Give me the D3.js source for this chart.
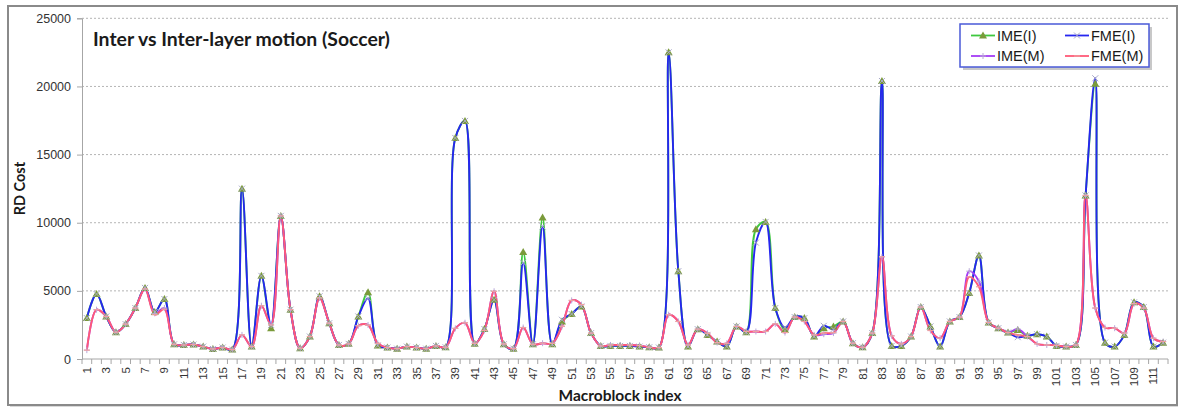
<!DOCTYPE html>
<html>
<head>
<meta charset="utf-8">
<script src="https://cdn.jsdelivr.net/npm/d3@7"></script>
<style>
  html, body { margin: 0; padding: 0; background: #ffffff; }
  svg { display: block; }
</style>
</head>
<body>
<svg id="chart" width="1182" height="408"></svg>
<script>
// Macroblock indices 1..112
const categories = d3.range(1, 113);

// RD cost per macroblock, one array per motion-estimation mode
const imeI = [3000,4770,3120,1970,2560,3740,5215,3440,4400,1080,
  1030,1060,910,740,840,690,12500,910,6100,2260,
  10500,3620,790,1650,4600,2630,1030,1110,3120,4900,
  985,840,760,910,840,760,960,860,16220,17470,
  1110,2200,4350,1080,760,7850,1080,10380,1080,2760,
  3300,3860,1900,960,960,960,960,910,860,840,
  22500,6445,910,2190,1770,1280,910,2390,1970,9520,
  10060,3740,2140,3075,3000,1650,2260,2390,2755,1160,
  860,1900,20400,960,960,1650,3810,2390,910,2755,
  3075,4850,7600,2680,2260,1940,2125,1700,1820,1650,
  960,910,1030,12000,20200,1200,910,1770,4160,3810,
  910,1200];

const fmeI = [3000,4770,3120,1970,2560,3740,5215,3440,4400,1080,
  1030,1060,910,740,840,690,12500,910,6100,2500,
  10500,3620,790,1650,4600,2630,1030,1110,3120,4450,
  985,840,760,910,840,760,960,860,16220,17470,
  1110,2200,4350,1080,760,7060,1080,9720,1080,2880,
  3300,3860,1900,960,960,960,960,910,860,840,
  22500,6445,910,2190,1770,1280,910,2390,1970,8540,
  10060,3740,2310,3075,3000,1650,2435,2190,2755,1160,
  860,1900,20400,960,960,1650,3810,2390,910,2755,
  3075,4850,7600,2680,2260,1940,1600,1700,1820,1650,
  960,910,1030,12000,20600,1200,910,1770,4160,3810,
  910,1200];

const imeM = [650,3620,3120,1970,2560,3740,5140,3350,3740,1080,
  1030,1060,910,740,840,690,1770,910,3910,2500,
  10500,3620,790,1650,4480,2630,1030,1110,2440,2500,
  1150,840,760,910,840,760,960,860,2250,2660,
  1150,2100,4970,1100,760,2310,1080,1160,1150,2400,
  4300,3990,1900,960,1030,1030,1030,985,860,840,
  3250,2755,1030,2190,1890,1200,1150,2390,2020,2020,
  2020,2580,1940,3075,2755,1770,1820,1900,2755,1160,
  860,1900,7500,1700,1110,1650,3810,2090,1525,2755,
  3075,6445,5700,2680,2260,1940,2200,1650,1110,1030,
  1000,910,1030,12000,3740,2310,2260,1900,4060,3740,
  1525,1280];

const fmeM = [650,3620,3120,1970,2560,3740,5140,3250,3650,1080,
  1030,1060,910,740,840,690,1770,910,3910,2500,
  10500,3620,790,1650,4480,2630,1030,1110,2440,2480,
  1150,840,760,910,840,760,960,860,2250,2660,
  1150,2100,4970,1100,760,2310,1080,1160,1150,2400,
  4300,3990,1900,960,1030,1030,1030,985,860,840,
  3250,2755,1030,2190,1890,1200,1150,2390,2020,2020,
  2020,2580,1940,3075,2755,1770,1900,1940,2755,1160,
  860,1900,7500,1700,1110,1650,3810,2090,1525,2755,
  3075,6030,5300,2680,2260,1940,1760,1650,1110,1030,
  1000,910,1030,12000,3740,2310,2260,1900,4060,3740,
  1525,1280];

const yTicks = [0, 5000, 10000, 15000, 20000, 25000];
const xTickLabels = categories.filter(d => d % 2 === 1);

const seriesNames = ["IME(I)", "FME(I)", "IME(M)", "FME(M)"];

const series = [
  { name: seriesNames[0], values: imeI, color: "#3fc83f", marker: "triangle" },
  { name: seriesNames[1], values: fmeI, color: "#2626f0", marker: "cross" },
  { name: seriesNames[2], values: imeM, color: "#a43cf5", marker: "plus" },
  { name: seriesNames[3], values: fmeM, color: "#ff5a78", marker: "dash" }
];

const svg = d3.select("#chart");
const font = "'Liberation Sans', 'DejaVu Sans', sans-serif";
const boldFont = "Lato, 'Open Sans', sans-serif";

// Chart frame
svg.append("rect")
  .attr("x", 10).attr("y", 8).attr("width", 1168).attr("height", 399)
  .attr("fill", "#d9d9d9");
svg.append("rect")
  .attr("x", 8).attr("y", 6).attr("width", 1169).attr("height", 399)
  .attr("fill", "#ffffff").attr("stroke", "#8a8a8a").attr("stroke-width", 2);

const plot = { left: 82, right: 1168, top: 18.3, bottom: 359 };

const x = d3.scaleBand()
  .domain(categories)
  .range([plot.left, plot.right]);

const y = d3.scaleLinear()
  .domain([0, 25000])
  .range([plot.bottom, plot.top]);

const cx = d => x(d) + x.bandwidth() / 2;

// Horizontal gridlines
svg.append("g")
  .selectAll("line")
  .data(yTicks.filter(t => t > 0))
  .join("line")
  .attr("x1", plot.left).attr("x2", plot.right)
  .attr("y1", d => y(d)).attr("y2", d => y(d))
  .attr("stroke", "#b5b5b5")
  .attr("stroke-width", 1)
  .attr("stroke-dasharray", "2,2");

// Y axis
const yAxis = d3.axisLeft(y)
  .tickValues(yTicks)
  .tickSize(5)
  .tickPadding(6)
  .tickFormat(d3.format("d"));

const gy = svg.append("g")
  .attr("transform", `translate(${plot.left},0)`)
  .call(yAxis);
gy.select(".domain").attr("stroke", "#a6a6a6");
gy.selectAll(".tick line").attr("stroke", "#a6a6a6");
gy.selectAll(".tick text")
  .attr("font-family", font)
  .attr("font-size", 12.5)
  .attr("fill", "#333333");

// X axis: tick marks at category boundaries, labels on odd indices
const gx = svg.append("g").attr("transform", `translate(0,${plot.bottom})`);
gx.append("line")
  .attr("x1", plot.left).attr("x2", plot.right)
  .attr("y1", 0).attr("y2", 0)
  .attr("stroke", "#a6a6a6");
gx.selectAll("line.tick")
  .data(categories.concat([categories.length + 1]))
  .join("line")
  .attr("class", "tick")
  .attr("x1", (d, i) => plot.left + i * x.step())
  .attr("x2", (d, i) => plot.left + i * x.step())
  .attr("y1", 0).attr("y2", 5)
  .attr("stroke", "#a6a6a6");
gx.selectAll("text")
  .data(xTickLabels)
  .join("text")
  .attr("transform", d => `translate(${cx(d) + 4},8) rotate(-90)`)
  .attr("text-anchor", "end")
  .attr("font-family", font)
  .attr("font-size", 11.5)
  .attr("fill", "#333333")
  .text(d => d);

// Smoothed series lines
const line = d3.line()
  .x((d, i) => cx(categories[i]))
  .y(d => y(d))
  .curve(d3.curveCatmullRom.alpha(0.5));

svg.append("g")
  .selectAll("path")
  .data(series)
  .join("path")
  .attr("d", s => line(s.values))
  .attr("fill", "none")
  .attr("stroke", s => s.color)
  .attr("stroke-width", 1.9)
  .attr("stroke-linejoin", "round");

// Marker shapes
function drawMarker(g, kind, px, py) {
  if (kind === "triangle") {
    g.append("path")
      .attr("d", `M${px},${py - 4}L${px + 4},${py + 3}L${px - 4},${py + 3}Z`)
      .attr("fill", "#7a9a3a");
  } else if (kind === "cross") {
    g.append("path")
      .attr("d", `M${px - 3},${py - 3}L${px + 3},${py + 3}M${px - 3},${py + 3}L${px + 3},${py - 3}`)
      .attr("stroke", "#a8a8c8").attr("stroke-width", 1);
  } else if (kind === "plus") {
    g.append("path")
      .attr("d", `M${px - 3},${py}L${px + 3},${py}M${px},${py - 3}L${px},${py + 3}`)
      .attr("stroke", "#b9a8d8").attr("stroke-width", 1);
  } else {
    g.append("path")
      .attr("d", `M${px - 3},${py}L${px + 3},${py}`)
      .attr("stroke", "#f0a0a0").attr("stroke-width", 1.2);
  }
}

const markers = svg.append("g");
series.forEach(s => {
  const g = markers.append("g");
  s.values.forEach((v, i) => drawMarker(g, s.marker, cx(categories[i]), y(v)));
});

// Title
svg.append("text")
  .attr("x", 93).attr("y", 46)
  .attr("font-family", boldFont)
  .attr("font-weight", "bold")
  .attr("font-size", 19.4)
  .attr("fill", "#1a1a1a")
  .text("Inter vs Inter-layer motion (Soccer)");

// Axis titles
svg.append("text")
  .attr("transform", `translate(25,${(plot.top + plot.bottom) / 2}) rotate(-90)`)
  .attr("text-anchor", "middle")
  .attr("font-family", boldFont)
  .attr("font-weight", "bold")
  .attr("font-size", 14.5)
  .attr("fill", "#1a1a1a")
  .text("RD Cost");

svg.append("text")
  .attr("x", 620).attr("y", 401)
  .attr("text-anchor", "middle")
  .attr("font-family", boldFont)
  .attr("font-weight", "bold")
  .attr("font-size", 15.5)
  .attr("fill", "#1a1a1a")
  .text("Macroblock index");

// Legend
const legend = svg.append("g").attr("transform", "translate(960,24)");
legend.append("rect")
  .attr("x", 3).attr("y", 3).attr("width", 189).attr("height", 43)
  .attr("fill", "#c8c8c8");
legend.append("rect")
  .attr("x", 0).attr("y", 0).attr("width", 189).attr("height", 43)
  .attr("fill", "#ffffff")
  .attr("stroke", "#4a5ad8").attr("stroke-width", 1.5);

const legendPos = [[11, 11.5], [105, 11.5], [11, 32], [105, 32]];
series.forEach((s, i) => {
  const [lx, ly] = legendPos[i];
  const g = legend.append("g");
  g.append("line")
    .attr("x1", lx).attr("x2", lx + 24)
    .attr("y1", ly).attr("y2", ly)
    .attr("stroke", s.color).attr("stroke-width", 1.8);
  drawMarker(g, s.marker, lx + 12, ly);
  g.append("text")
    .attr("x", lx + 26).attr("y", ly + 5)
    .attr("font-family", font)
    .attr("font-size", 14.5)
    .attr("fill", "#1a1a1a")
    .text(s.name);
});
</script>
</body>
</html>
